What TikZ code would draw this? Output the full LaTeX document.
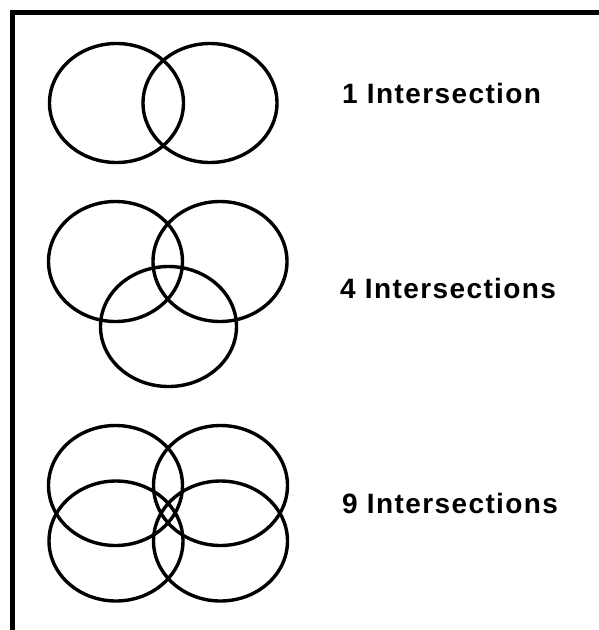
\documentclass[tikz,border=0pt]{standalone}
\usepackage{fontspec}
\setmainfont{Liberation Sans}[LetterSpace=5]
\begin{document}
\begin{tikzpicture}[x=1pt,y=-1pt,
  ring/.style={line width=3.4pt},
  frame/.style={line width=5pt, line join=miter},
  lbl/.style={anchor=base west, inner sep=0pt, font=\fontsize{28}{32}\selectfont\bfseries}]
\useasboundingbox (0,0) rectangle (599,630);
\draw[frame] (599,12) -- (12,12) -- (12,630);
% row 1
\draw[ring] (116.5,103) ellipse [x radius=67, y radius=59.5];
\draw[ring] (210,103) ellipse [x radius=67, y radius=59.5];
\node[lbl] (l1) at (342,103) {1 Intersection};
% row 2
\draw[ring] (115.5,261.5) ellipse [x radius=67, y radius=60];
\draw[ring] (220,261.5) ellipse [x radius=67, y radius=60];
\draw[ring] (168.5,326.5) ellipse [x radius=68, y radius=60];
\node[lbl] (l2) at (340,298) {4 Intersections};
% row 3
\draw[ring] (115.5,485.5) ellipse [x radius=67, y radius=60];
\draw[ring] (220.5,485.5) ellipse [x radius=67, y radius=60];
\draw[ring] (116,541) ellipse [x radius=67, y radius=60];
\draw[ring] (220.5,541) ellipse [x radius=67, y radius=60];
\node[lbl] (l3) at (342,513) {9 Intersections};
\end{tikzpicture}
\end{document}
